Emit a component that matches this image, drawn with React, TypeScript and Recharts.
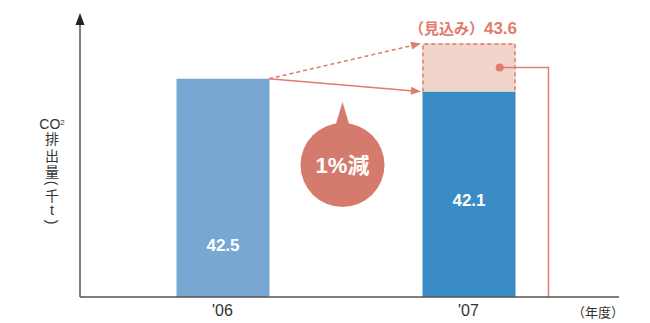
import React from "react";
import { BarChart, Bar, XAxis, YAxis, Cell, LabelList, ReferenceLine } from "recharts";

const YEARS = ["'06", "'07"];
const ACTUAL = [42.5, 42.1];
const FORECAST: (number | null)[] = [null, 43.6];
const CHANGE_LABEL = "1%減";

const BAR_COLORS = ["#78a7d1", "#3a8cc4"];
const SALMON = "#e07b6d";
const BUBBLE = "#d57b6d";
const PINK = "#f2d5ca";
const AXIS = "#555";
const FONT = "'Liberation Sans', 'Noto Sans CJK JP', sans-serif";
const BAR_W = 93;
const LABEL_POS = [0.76, 0.53];

const data = YEARS.map((year, i) => ({
  year,
  actual: ACTUAL[i],
  extra: FORECAST[i] != null ? (FORECAST[i] as number) - ACTUAL[i] : 0,
  forecast: FORECAST[i],
}));

function EstimateShape(props: any) {
  const { x, y, width, height } = props;
  if (!height || height <= 0) return <g />;
  const dx = x + width * 0.83;
  const dy = y + height / 2;
  return (
    <g>
      <rect x={x} y={y} width={width} height={height} fill={PINK} />
      <path
        d={`M${x + 0.5},${y + height} V${y + 0.5} H${x + width - 0.5} V${y + height}`}
        fill="none"
        stroke={SALMON}
        strokeWidth={1.5}
        strokeDasharray="4 3"
      />
      <circle cx={dx} cy={dy} r={4} fill={SALMON} />
      <path d={`M${dx},${dy} H${x + width + 33} V340`} fill="none" stroke={SALMON} strokeWidth={1.5} />
    </g>
  );
}

function arrowShape(dashed: boolean, bubble: boolean) {
  return (props: any) => {
    const { x1, y1, x2, y2 } = props;
    const sx = x1 + BAR_W / 2;
    const ex = x2 - BAR_W / 2 - 1;
    const ang = Math.atan2(y2 - y1, ex - sx);
    const L = 10;
    const W = 4;
    const bx = ex - L * Math.cos(ang);
    const by = y2 - L * Math.sin(ang);
    const px = -Math.sin(ang) * W;
    const py = Math.cos(ang) * W;
    const cx = (x1 + x2) / 2 - 3;
    const cy = 165;
    return (
      <g>
        <line x1={sx} y1={y1} x2={bx} y2={by} stroke={SALMON} strokeWidth={1.5} strokeDasharray={dashed ? "4 3" : undefined} />
        <polygon points={`${ex},${y2} ${bx + px},${by + py} ${bx - px},${by - py}`} fill={SALMON} />
        {bubble && (
          <g>
            <polygon points={`${cx},102 ${cx - 9},132 ${cx + 9},132`} fill={BUBBLE} />
            <circle cx={cx} cy={cy} r={42} fill={BUBBLE} />
            <text x={cx} y={cy + 8} textAnchor="middle" fill="#fff" fontSize={22} fontWeight="bold" fontFamily={FONT}>
              {CHANGE_LABEL}
            </text>
          </g>
        )}
      </g>
    );
  };
}

function YLabel(props: any) {
  const vb = props.viewBox || {};
  const ax = vb.x + vb.width;
  const top = vb.y;
  const lx = ax - 28;
  const rows: [string, number, boolean][] = [
    ["排", 139, false],
    ["出", 156, false],
    ["量", 172, false],
    ["(", 183, true],
    ["千", 196, false],
    ["t", 210, false],
    [")", 222, true],
  ];
  return (
    <g fontFamily={FONT} fill="#333">
      <polygon points={`${ax},${top - 7} ${ax - 4.5},${top + 5} ${ax + 4.5},${top + 5}`} fill="#222" />
      <text x={lx} y={124} textAnchor="middle" dominantBaseline="central" fontSize={14}>
        CO<tspan fontSize={8} dy={-2}>2</tspan>
      </text>
      {rows.map(([r, cy, rot], i) => (
        <text
          key={i}
          x={lx}
          y={cy}
          textAnchor="middle"
          dominantBaseline="central"
          fontSize={14}
          transform={rot ? `rotate(90 ${lx} ${cy})` : undefined}
        >
          {r}
        </text>
      ))}
    </g>
  );
}

function XLabel(props: any) {
  const vb = props.viewBox || {};
  return (
    <text x={vb.x + vb.width + 5} y={vb.y + 20} textAnchor="end" fontSize={13} fill="#333" fontFamily={FONT}>
      （年度）
    </text>
  );
}

function ActualLabel(props: any) {
  const { x, y, width, height, value, index } = props;
  return (
    <text
      x={x + width / 2}
      y={y + height * LABEL_POS[index] + 6}
      textAnchor="middle"
      fill="#fff"
      fontSize={17}
      fontWeight="bold"
      fontFamily={FONT}
    >
      {value}
    </text>
  );
}

function ForecastLabel(props: any) {
  const { x, y, width, value } = props;
  if (value == null) return null;
  return (
    <text x={x + width / 2 - 6} y={y - 9} textAnchor="middle" fill={SALMON} fontSize={15} fontWeight="bold" fontFamily={FONT}>
      （見込み）<tspan fontSize={17}>{value}</tspan>
    </text>
  );
}

export default function App() {
  return (
    <div style={{ position: "absolute", left: 0, top: 0, width: 650, height: 323 }}>
      <BarChart width={650} height={323} data={data} margin={{ top: 20, right: 31, left: 0, bottom: 0 }}>
        <XAxis
          dataKey="year"
          height={26}
          padding={{ left: 19.5, right: 27.5 }}
          axisLine={{ stroke: AXIS, strokeWidth: 1.5 }}
          tickLine={false}
          tick={{ fill: "#333", fontSize: 16, fontFamily: FONT }}
          tickMargin={2}
          label={{ content: XLabel }}
        />
        <YAxis
          width={80}
          type="number"
          domain={[35.7, 44.33]}
          allowDataOverflow
          tick={false}
          tickLine={false}
          axisLine={{ stroke: AXIS, strokeWidth: 1.5 }}
          label={{ content: YLabel }}
        />
        <Bar dataKey="actual" stackId="a" barSize={BAR_W} isAnimationActive={false}>
          {data.map((_, i) => (
            <Cell key={i} fill={BAR_COLORS[i]} />
          ))}
          <LabelList dataKey="actual" content={ActualLabel} />
        </Bar>
        <Bar dataKey="extra" stackId="a" barSize={BAR_W} isAnimationActive={false} shape={EstimateShape}>
          <LabelList dataKey="forecast" content={ForecastLabel} />
        </Bar>
        <ReferenceLine
          segment={[{ x: YEARS[0], y: ACTUAL[0] }, { x: YEARS[1], y: FORECAST[1] as number }]}
          shape={arrowShape(true, false)}
        />
        <ReferenceLine
          segment={[{ x: YEARS[0], y: ACTUAL[0] }, { x: YEARS[1], y: ACTUAL[1] }]}
          shape={arrowShape(false, true)}
        />
      </BarChart>
    </div>
  );
}
